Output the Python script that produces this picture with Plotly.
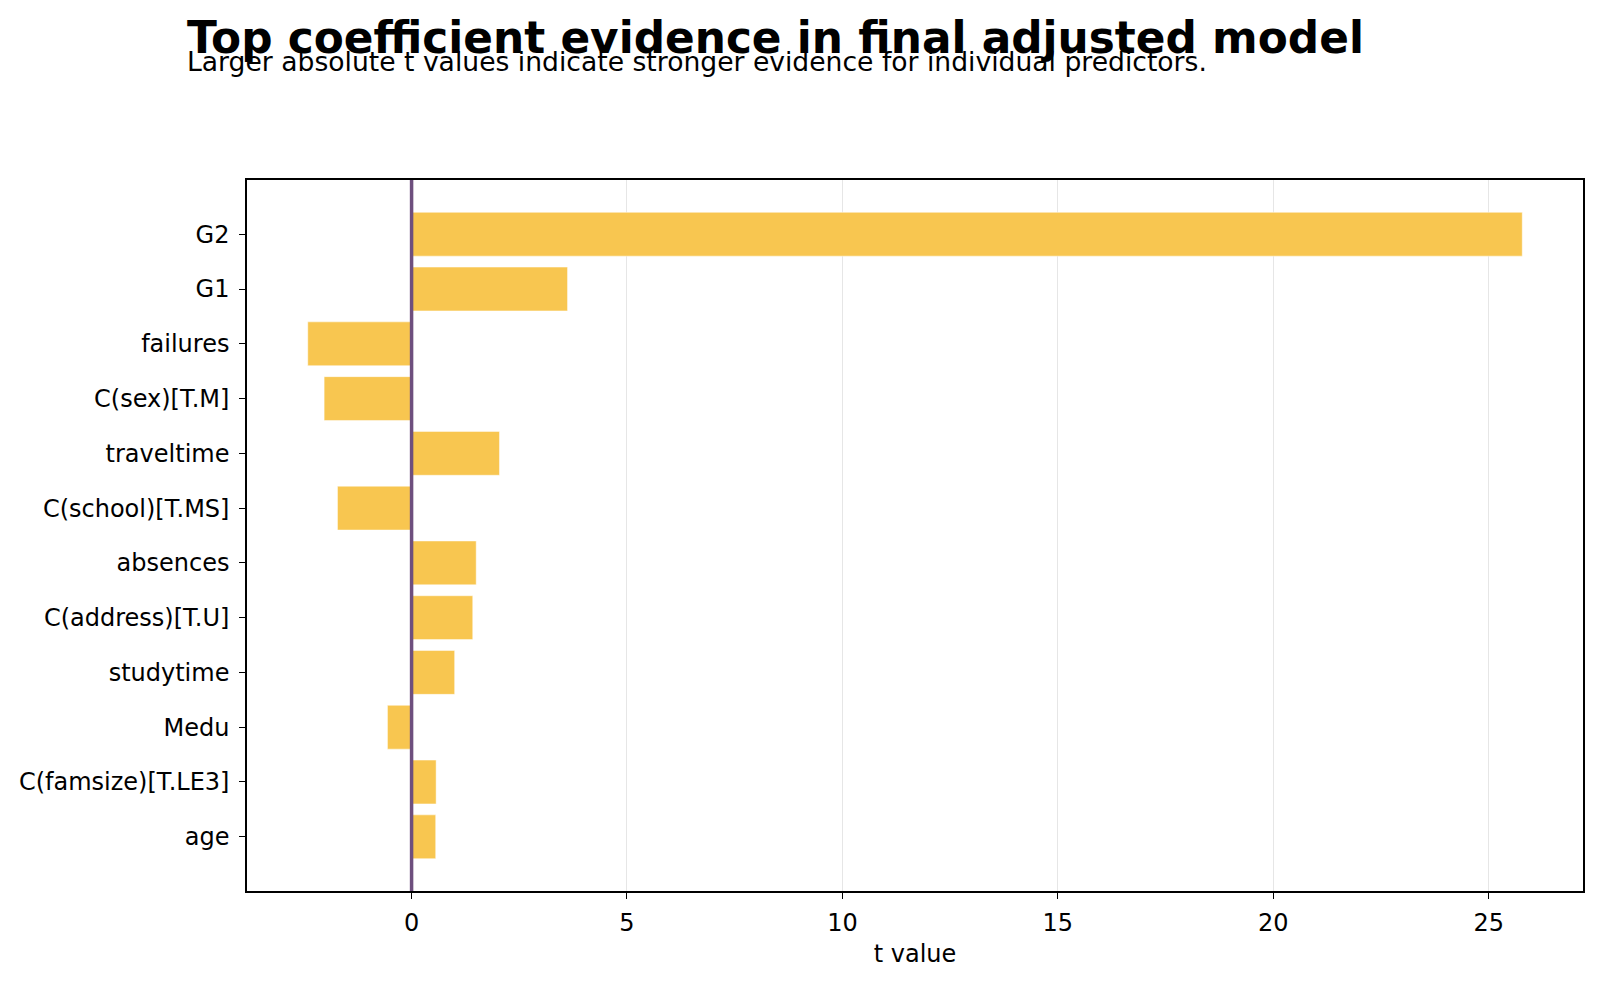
import plotly.graph_objects as go

predictors = ["G2", "G1", "failures", "C(sex)[T.M]", "traveltime", "C(school)[T.MS]",
              "absences", "C(address)[T.U]", "studytime", "Medu", "C(famsize)[T.LE3]", "age"]
t_values = [25.78, 3.62, -2.41, -2.03, 2.04, -1.72, 1.50, 1.42, 1.00, -0.56, 0.57, 0.56]
x_ticks = [0, 5, 10, 15, 20, 25]

FONT = "DejaVu Sans"
BAR_COLOR = "#F8C650"
LINE_COLOR = "#6E4F7E"

fig = go.Figure()
fig.add_trace(go.Bar(
    x=t_values, y=predictors, orientation="h", width=0.8,
    marker=dict(color=BAR_COLOR, line=dict(color="rgba(255,255,255,0.6)", width=0.8)),
    showlegend=False,
))

fig.add_shape(type="line", xref="x", yref="paper", x0=0, x1=0, y0=0, y1=1,
              line=dict(color=LINE_COLOR, width=3.5), layer="above")

fig.update_layout(
    width=1600, height=985,
    margin=dict(l=247, r=17, t=180, b=94),
    paper_bgcolor="white", plot_bgcolor="white",
    font=dict(family=FONT, color="black", size=24),
    bargap=0.2,
    xaxis=dict(
        range=[-3.82, 27.19], tickvals=x_ticks, ticktext=[str(v) for v in x_ticks],
        showgrid=True, gridcolor="#e6e6e6", gridwidth=1, zeroline=False,
        showline=True, linecolor="black", linewidth=1.5, mirror=True,
        ticks="outside", ticklen=6, tickwidth=1.3, tickcolor="black",
        tickfont=dict(size=24, family=FONT), ticklabelstandoff=3,
        title=dict(text="t value", font=dict(size=24, family=FONT), standoff=10),
    ),
    yaxis=dict(
        categoryorder="array", categoryarray=predictors,
        range=[11.99, -0.99], showgrid=False, zeroline=False,
        showline=True, linecolor="black", linewidth=1.5, mirror=True,
        ticks="outside", ticklen=6, tickwidth=1.3, tickcolor="black",
        tickfont=dict(size=24, family=FONT), ticklabelstandoff=5,
    ),
    annotations=[
        dict(text="<b>Top coefficient evidence in final adjusted model</b>",
             xref="paper", yref="paper", x=-0.0464, y=1.2011,
             xanchor="left", yanchor="middle", showarrow=False,
             font=dict(size=43.8, family=FONT, color="black")),
        dict(text="Larger absolute t values indicate stronger evidence for individual predictors.",
             xref="paper", yref="paper", x=-0.0464, y=1.167,
             xanchor="left", yanchor="middle", showarrow=False,
             font=dict(size=26.6, family=FONT, color="black")),
    ],
)

fig.write_html("out.html")
